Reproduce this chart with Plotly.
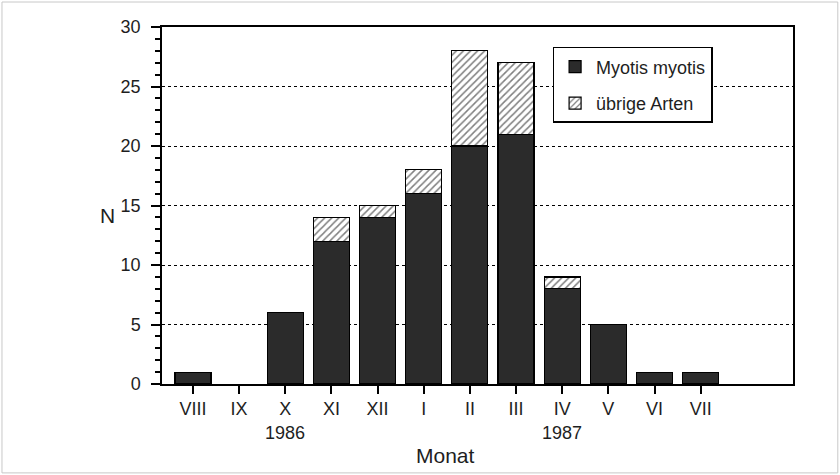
import plotly.graph_objects as go

months = ["VIII", "IX", "X", "XI", "XII", "I", "II", "III", "IV", "V", "VI", "VII"]
myotis = [1, 0, 6, 12, 14, 16, 20, 21, 8, 5, 1, 1]
uebrige = [0, 0, 0, 2, 1, 2, 8, 6, 1, 0, 0, 0]
year_labels = ["1986", "1987"]
year_pos = ["X", "IV"]

FONT = "Liberation Sans"
TXT = "#1e1e1e"
dark = "#2b2b2b"

fig = go.Figure()
fig.add_trace(go.Bar(
    x=months, y=myotis, name="Myotis myotis", legendgroup="a",
    marker=dict(color=dark, line=dict(color="black", width=[1.2 if v > 0 else 0 for v in myotis])),
    width=0.78,
))
fig.add_trace(go.Bar(
    x=months, y=[u if u > 0 else None for u in uebrige], name="übrige Arten", legendgroup="b",
    marker=dict(color="white", line=dict(color="black", width=1.2),
                pattern=dict(shape="/", fgcolor="black", bgcolor="white", size=5, solidity=0.3)),
    width=0.78,
))

for lab, pos in zip(year_labels, year_pos):
    fig.add_annotation(x=pos, xref="x", y=-0.137, yref="paper", xanchor="center", yanchor="middle",
                       text=lab, showarrow=False, font=dict(size=18, family=FONT, color=TXT))

fig.add_annotation(x=0.449, xref="paper", y=-0.199, yref="paper", xanchor="center", yanchor="middle",
                   text="Monat", showarrow=False, font=dict(size=21, family=FONT, color=TXT))
fig.add_annotation(x=-0.087, xref="paper", y=0.473, yref="paper", xanchor="center", yanchor="middle",
                   text="N", showarrow=False, font=dict(size=21, family=FONT, color=TXT))

fig.update_layout(
    width=840, height=475,
    margin=dict(l=162, r=47, t=27, b=91),
    paper_bgcolor="white", plot_bgcolor="white",
    barmode="stack",
    font=dict(family=FONT, size=18, color=TXT),
    showlegend=True,
    legend=dict(x=0.619, y=0.944, xanchor="left", yanchor="top",
                bordercolor="black", borderwidth=1.5, bgcolor="white",
                font=dict(size=18, family=FONT, color=TXT),
                traceorder="grouped", tracegroupgap=10, itemwidth=32),
    xaxis=dict(range=[-0.67, 13.0], showline=True, linecolor="black", linewidth=1.5,
               mirror=True, ticks="outside", ticklen=8, tickcolor="black", tickwidth=1.5,
               showgrid=False, tickfont=dict(size=18)),
    yaxis=dict(range=[0, 30], dtick=5, showline=True, linecolor="black", linewidth=1.5,
               mirror=True, ticks="outside", ticklen=9, tickcolor="black", tickwidth=1.5,
               showgrid=True, gridcolor="black", griddash="dot", gridwidth=1.2,
               zeroline=False, tickfont=dict(size=18), ticklabelstandoff=7,
               minor=dict(dtick=1, ticks="outside", ticklen=5, tickcolor="black", showgrid=False)),
)

fig.add_shape(type="rect", xref="paper", yref="paper", x0=-0.2536, x1=1.071, y0=-0.249, y1=1.070,
              line=dict(color="#c8c8c8", width=1))

fig.write_html("out.html", config={"displayModeBar": False},
               post_script="document.body.style.margin='0';document.body.style.overflow='hidden';")
